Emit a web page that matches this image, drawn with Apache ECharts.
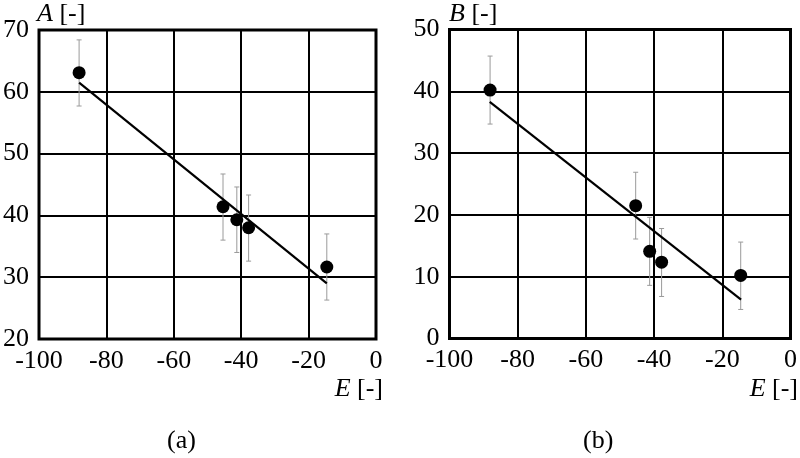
<!DOCTYPE html>
<html><head><meta charset="utf-8">
<script src="https://cdn.jsdelivr.net/npm/echarts@6/dist/echarts.min.js"></script>
<style>html,body{margin:0;padding:0;background:#fff}#c{width:800px;height:458px}</style>
</head><body><div id="c"></div>
<script>
const E = [-88.1, -45.4, -41.3, -37.8, -14.6];
const A = [63.1, 41.4, 39.3, 38.0, 31.65];
const A_hi = [68.4, 46.7, 44.6, 43.3, 37.0];
const A_lo = [57.7, 36.0, 34.0, 32.6, 26.3];
const A_fitE = [-88.1, -14.6];
const A_fit = [61.5, 29.0];
const B = [40.2, 21.5, 14.1, 12.35, 10.2];
const B_hi = [45.7, 26.9, 19.6, 17.8, 15.6];
const B_lo = [34.7, 16.1, 8.6, 6.8, 4.7];
const B_fitE = [-88.2, -14.5];
const B_fit = [38.3, 6.3];
const xTicks = {min: -100, max: 0, interval: 20};
const yTicksA = {min: 20, max: 70, interval: 10};
const yTicksB = {min: 0, max: 50, interval: 10};

const FONT = '"Liberation Serif", "Times New Roman", serif';
const chart = echarts.init(document.getElementById('c'));

function xAxis(i) {
  return {type: 'value', gridIndex: i, min: xTicks.min, max: xTicks.max, interval: xTicks.interval,
    axisLine: {show: false}, axisTick: {show: false},
    axisLabel: {color: '#000', fontFamily: FONT, fontSize: 26, margin: 9},
    splitLine: {show: true, lineStyle: {color: '#000', width: 2}}};
}
function yAxis(i, t) {
  return {type: 'value', gridIndex: i, min: t.min, max: t.max, interval: t.interval,
    axisLine: {show: false}, axisTick: {show: false},
    axisLabel: {color: '#000', fontFamily: FONT, fontSize: 26, margin: 10},
    splitLine: {show: true, lineStyle: {color: '#000', width: 2}}};
}
function errSeries(i, lo, hi) {
  return {type: 'custom', xAxisIndex: i, yAxisIndex: i, z: 3,
    data: E.map((e, k) => [e, lo[k], hi[k]]),
    renderItem: function (params, api) {
      const x = api.value(0);
      const p1 = api.coord([x, api.value(1)]);
      const p2 = api.coord([x, api.value(2)]);
      const c = 2.5;
      const st = {stroke: '#9a9a9a', lineWidth: 1};
      return {type: 'group', children: [
        {type: 'line', shape: {x1: p1[0], y1: p1[1], x2: p2[0], y2: p2[1]}, style: st},
        {type: 'line', shape: {x1: p1[0] - c, y1: p1[1], x2: p1[0] + c, y2: p1[1]}, style: st},
        {type: 'line', shape: {x1: p2[0] - c, y1: p2[1], x2: p2[0] + c, y2: p2[1]}, style: st}
      ]};
    }};
}
function scatter(i, ys) {
  return {type: 'scatter', xAxisIndex: i, yAxisIndex: i, z: 5, symbol: 'circle', symbolSize: 13,
    itemStyle: {color: '#000', opacity: 1}, data: E.map((e, k) => [e, ys[k]])};
}
function fit(i, xs, ys) {
  return {type: 'line', xAxisIndex: i, yAxisIndex: i, z: 4, symbol: 'none',
    lineStyle: {color: '#000', width: 2.2}, data: xs.map((x, k) => [x, ys[k]])};
}
const ts = {color: '#000', fontFamily: FONT, fontSize: 26, fontWeight: 'normal',
  rich: {i: {fontStyle: 'italic', fontFamily: FONT, fontSize: 26, color: '#000'}}};

chart.setOption({
  animation: false,
  grid: [
    {left: 37, top: 30, width: 339, height: 309, show: true, borderColor: '#000', borderWidth: 3, backgroundColor: 'transparent'},
    {left: 449.5, top: 29.5, width: 344, height: 309, show: true, borderColor: '#000', borderWidth: 3, backgroundColor: 'transparent'}
  ],
  title: [
    {text: '{i|A} [-]', left: 37, top: 1, padding: 0, textStyle: ts},
    {text: '{i|E} [-]', right: 417, top: 376, padding: 0, textStyle: ts},
    {text: '(a)', left: 167, top: 428, padding: 0, textStyle: ts},
    {text: '{i|B} [-]', left: 449, top: 1, padding: 0, textStyle: ts},
    {text: '{i|E} [-]', right: 2, top: 376, padding: 0, textStyle: ts},
    {text: '(b)', left: 583, top: 428, padding: 0, textStyle: ts}
  ],
  xAxis: [xAxis(0), xAxis(1)],
  yAxis: [yAxis(0, yTicksA), yAxis(1, yTicksB)],
  series: [
    errSeries(0, A_lo, A_hi), fit(0, A_fitE, A_fit), scatter(0, A),
    errSeries(1, B_lo, B_hi), fit(1, B_fitE, B_fit), scatter(1, B)
  ]
});
</script></body></html>
